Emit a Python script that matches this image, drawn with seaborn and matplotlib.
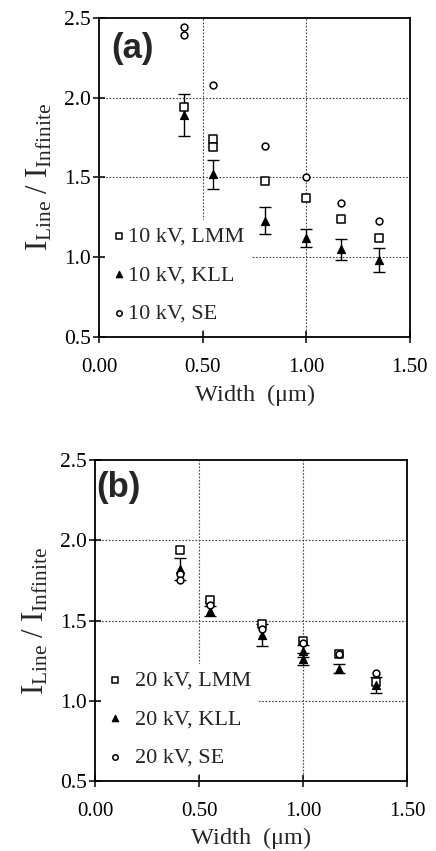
import matplotlib
matplotlib.use("Agg")
import matplotlib.pyplot as plt
import seaborn as sns
import pandas as pd

# ---------------- data ----------------
x_ticks = [0.00, 0.50, 1.00, 1.50]
y_ticks = [0.5, 1.0, 1.5, 2.0, 2.5]

# panel (a) 10 kV
a_lmm_x = [0.41, 0.55, 0.55, 0.80, 1.00, 1.17, 1.35]
a_lmm = [1.94, 1.74, 1.69, 1.48, 1.37, 1.24, 1.12]
a_kll_x = [0.41, 0.55, 0.80, 1.00, 1.17, 1.35]
a_kll = [1.89, 1.52, 1.23, 1.12, 1.05, 0.98]
a_kll_err = [0.13, 0.09, 0.085, 0.055, 0.065, 0.075]
a_se_x = [0.41, 0.41, 0.55, 0.80, 1.00, 1.17, 1.35]
a_se = [2.44, 2.39, 2.08, 1.70, 1.50, 1.34, 1.23]

# panel (b) 20 kV
b_lmm_x = [0.41, 0.55, 0.80, 1.00, 1.17, 1.35]
b_lmm = [1.94, 1.63, 1.48, 1.37, 1.29, 1.12]
b_kll_x = [0.41, 0.55, 0.80, 1.00, 1.00, 1.17, 1.35]
b_kll = [1.82, 1.56, 1.41, 1.31, 1.26, 1.20, 1.10]
b_kll_err = [0.07, 0.03, 0.07, 0.04, 0.04, 0.03, 0.05]
b_se_x = [0.41, 0.41, 0.55, 0.80, 1.00, 1.17, 1.35]
b_se = [1.79, 1.75, 1.60, 1.45, 1.36, 1.29, 1.17]

labels_a = ["10 kV, LMM", "10 kV, KLL", "10 kV, SE"]
labels_b = ["20 kV, LMM", "20 kV, KLL", "20 kV, SE"]

# ---------------- style ----------------
sns.set_style("ticks")
plt.rcParams["font.family"] = ["Liberation Serif", "DejaVu Serif"]
plt.rcParams["mathtext.fontset"] = "custom"
plt.rcParams["mathtext.rm"] = "Liberation Serif"
plt.rcParams["mathtext.it"] = "Liberation Serif:italic"

fig = plt.figure(figsize=(4.36, 8.51), dpi=100)
ax_a = fig.add_axes([0.227, 0.604, 0.713, 0.375])
ax_b = fig.add_axes([0.218, 0.0823, 0.716, 0.377])


def draw(ax, lmm_x, lmm, kll_x, kll, kll_err, se_x, se, labels, tag,
         tag_x, tag_y, leg_pad, xlab_pad):
    ax.set_xlim(0, 1.5)
    ax.set_ylim(0.5, 2.5)
    ax.set_xticks(x_ticks)
    ax.set_yticks(y_ticks)
    ax.set_xticklabels([f"{v:.2f}" for v in x_ticks])
    ax.set_yticklabels([f"{v:.1f}" for v in y_ticks])
    for v in [0.5, 1.0]:
        ax.axvline(v, color="#444444", ls=(0, (1.5, 1.5)), lw=0.8, zorder=0)
    for v in [1.0, 1.5, 2.0]:
        ax.axhline(v, color="#444444", ls=(0, (1.5, 1.5)), lw=0.8, zorder=0)

    ax.errorbar(kll_x, kll, yerr=kll_err, fmt="none", ecolor="black",
                elinewidth=1.0, capsize=4, capthick=1.0, zorder=2)
    sns.scatterplot(x=lmm_x, y=lmm, ax=ax, marker="s", s=26,
                    facecolor="white", edgecolor="black", linewidth=1.1,
                    label=labels[0], zorder=3)
    sns.scatterplot(x=kll_x, y=kll, ax=ax, marker="^", s=34,
                    color="black", edgecolor="black", linewidth=0.8,
                    label=labels[1], zorder=3)
    sns.scatterplot(x=se_x, y=se, ax=ax, marker="o", s=24,
                    facecolor="white", edgecolor="black", linewidth=1.1,
                    label=labels[2], zorder=3)

    for sp in ax.spines.values():
        sp.set_visible(True)
        sp.set_linewidth(1.3)
        sp.set_color("black")
    ax.tick_params(axis="both", direction="inout", length=8, width=1.1,
                   colors="black")
    ax.tick_params(axis="x", labelsize=15, pad=11)
    ax.tick_params(axis="y", labelsize=15.5, pad=2)
    ax.set_xlabel(r"Width  ($\mathrm{\mu}$m)", fontsize=17.5,
                  labelpad=xlab_pad)
    ax.set_ylabel(r"$\mathrm{I_{Line}\ /\ I_{Infinite}}$", fontsize=22,
                  labelpad=7)
    ax.text(tag_x, tag_y, tag, transform=ax.transAxes, fontsize=25,
            fontweight="bold", family="Liberation Sans", va="center",
            ha="left")
    leg = ax.legend(loc="lower left", bbox_to_anchor=(0.0, 0.0),
                    frameon=True, fontsize=16, handletextpad=leg_pad,
                    handlelength=0.6, labelspacing=0.8, borderpad=0.3,
                    borderaxespad=0.3, markerscale=0.8)
    leg.get_frame().set_facecolor("white")
    leg.get_frame().set_edgecolor("none")
    leg.get_frame().set_alpha(1)
    leg.set_zorder(5)


draw(ax_a, a_lmm_x, a_lmm, a_kll_x, a_kll, a_kll_err, a_se_x, a_se,
     labels_a, "(a)", 0.04, 0.905, 0.1, 4)
draw(ax_b, b_lmm_x, b_lmm, b_kll_x, b_kll, b_kll_err, b_se_x, b_se,
     labels_b, "(b)", 0.005, 0.915, 0.6, 3)

fig.savefig("out.png", dpi=100)
